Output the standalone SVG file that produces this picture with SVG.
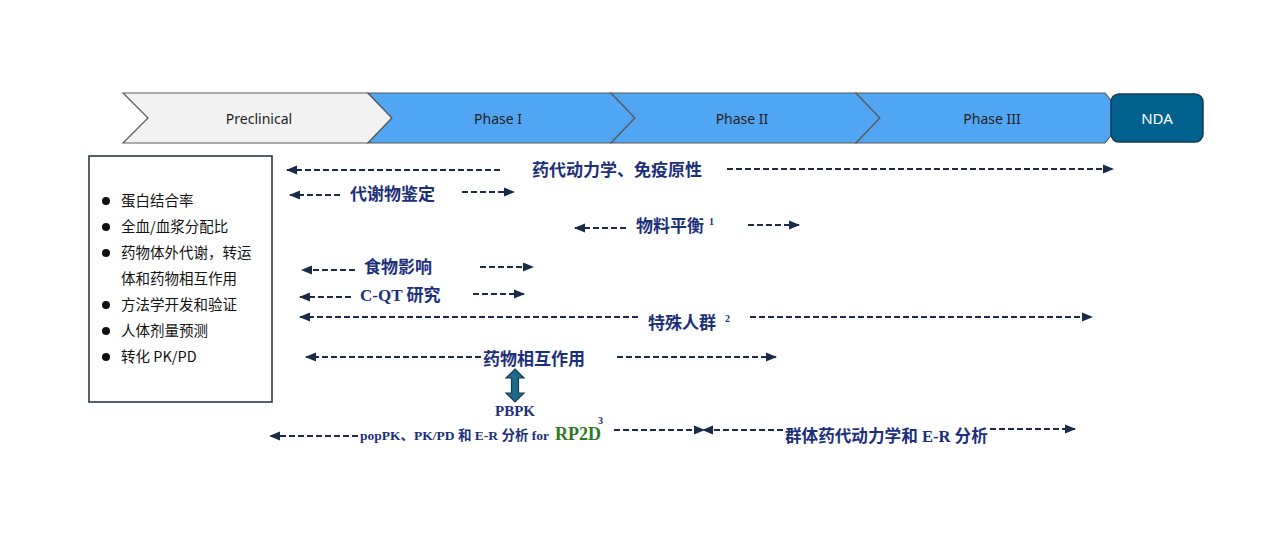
<svg xmlns="http://www.w3.org/2000/svg" width="1280" height="545" viewBox="0 0 1280 545">
<style>
.chev{stroke:#5a5a5a;stroke-width:1.2}
.pt{font-family:"Noto Sans","DejaVu Sans",sans-serif;font-size:14px;fill:#222;text-anchor:middle;dominant-baseline:central}
.lb{font-family:"Noto Sans CJK SC","Noto Sans",sans-serif;font-size:14.5px;fill:#111}
.lab{font-family:"Liberation Serif","Noto Sans CJK SC",serif;font-weight:bold;font-size:17px;fill:#1c2f7a}
.sm{font-family:"Liberation Serif","Noto Sans CJK SC",serif;font-weight:bold;font-size:13.5px;fill:#1c2f7a}
.sup{font-family:"Liberation Serif",serif;font-weight:bold;font-size:10px;fill:#1c2f7a}
.da{fill:none;stroke:#1b2a48;stroke-width:2.2;stroke-dasharray:6 3;marker-end:url(#ah)}
</style>
<defs>
<marker id="ah" markerUnits="userSpaceOnUse" markerWidth="11" markerHeight="10" refX="10" refY="5" orient="auto">
<path d="M0,0.5 L11,5 L0,9.5 z" fill="#1b2a48"/>
</marker>
</defs>
<rect width="1280" height="545" fill="#fff"/>
<g id="phases">
<g id="preclinical"><polygon class="chev" fill="#f2f2f2" points="123,93 368,93 392,118 368,143 123,143 148,118"/><text class="pt" x="259" y="118">Preclinical</text></g>
<g id="phase1"><polygon class="chev" fill="#50a6f3" points="368,93 611,93 635,118 611,143 368,143 392,118"/><text class="pt" x="498" y="118">Phase  I</text></g>
<g id="phase2"><polygon class="chev" fill="#50a6f3" points="611,93 856,93 880,118 856,143 611,143 635,118"/><text class="pt" x="742" y="118">Phase  II</text></g>
<g id="phase3"><polygon class="chev" fill="#50a6f3" points="856,93 1105,93 1125,118 1105,143 856,143 880,118"/><text class="pt" x="992" y="118">Phase  III</text></g>
<g id="nda"><rect x="1111" y="94" width="92" height="48" rx="8" fill="#00618f" stroke="#163a55" stroke-width="1.5"/><text class="pt" x="1157" y="118" style="fill:#fff;font-size:15px">NDA</text></g>
</g>
<g id="preclinical-list">
<rect x="89" y="156" width="183" height="246" fill="#fff" stroke="#1e2d3d" stroke-width="1.5"/>
<g fill="#111"><circle cx="106" cy="201" r="4"/><circle cx="106" cy="227" r="4"/><circle cx="106" cy="253" r="4"/><circle cx="106" cy="305" r="4"/><circle cx="106" cy="331" r="4"/><circle cx="106" cy="357" r="4"/></g>
<text class="lb" x="121" y="206">蛋白结合率</text>
<text class="lb" x="121" y="232">全血/血浆分配比</text>
<text class="lb" x="121" y="258">药物体外代谢，转运</text>
<text class="lb" x="121" y="284">体和药物相互作用</text>
<text class="lb" x="121" y="310">方法学开发和验证</text>
<text class="lb" x="121" y="336">人体剂量预测</text>
<text class="lb" x="121" y="362">转化 PK/PD</text>
</g>
<g id="connectors">
<path class="da" d="M500,170 H287"/><path class="da" d="M727,169 H1113"/>
<path class="da" d="M340,195 H290"/><path class="da" d="M462,192 H514"/>
<path class="da" d="M626,228 H575"/><path class="da" d="M748,225 H799"/>
<path class="da" d="M355,270 H302"/><path class="da" d="M480,267 H533"/>
<path class="da" d="M351,297 H300"/><path class="da" d="M473,294 H524"/>
<path class="da" d="M638,317 H300"/><path class="da" d="M750,317 H1092"/>
<path class="da" d="M481,357 H306"/><path class="da" d="M617,357 H776"/>
<path class="da" d="M358,436 H270"/><path class="da" d="M614,430 H704"/>
<path class="da" d="M783,430 H703"/><path class="da" d="M990,429 H1075"/>
<polygon points="515,369 524,378 518.5,378 518.5,393 524,393 515,402 506,393 511.5,393 511.5,378 506,378" fill="#1e6a8a" stroke="#163a55" stroke-width="1.2"/>
</g>
<g id="labels">
<text class="lab" x="617" y="176" text-anchor="middle">药代动力学、免疫原性</text>
<text class="lab" x="350" y="200">代谢物鉴定</text>
<text class="lab" x="636" y="232">物料平衡</text><text class="sup" x="709" y="225">1</text>
<text class="lab" x="364" y="273">食物影响</text>
<text class="lab" x="360" y="301">C-QT 研究</text>
<text class="lab" x="648" y="329">特殊人群</text><text class="sup" x="725" y="322">2</text>
<text class="lab" x="483" y="365">药物相互作用</text>
<text class="sm" x="515" y="416" text-anchor="middle" style="font-size:15px">PBPK</text>
<text class="sm" x="360" y="440">popPK、PK/PD 和 E-R 分析  for</text>
<text x="555" y="440" style="font-family:'Liberation Serif',serif;font-weight:bold;font-size:18px;fill:#2e7a1e">RP2D</text>
<text class="sup" x="598" y="424">3</text>
<text class="lab" x="785" y="442" style="font-size:16.6px">群体药代动力学和 E-R 分析</text>
</g>
</svg>
